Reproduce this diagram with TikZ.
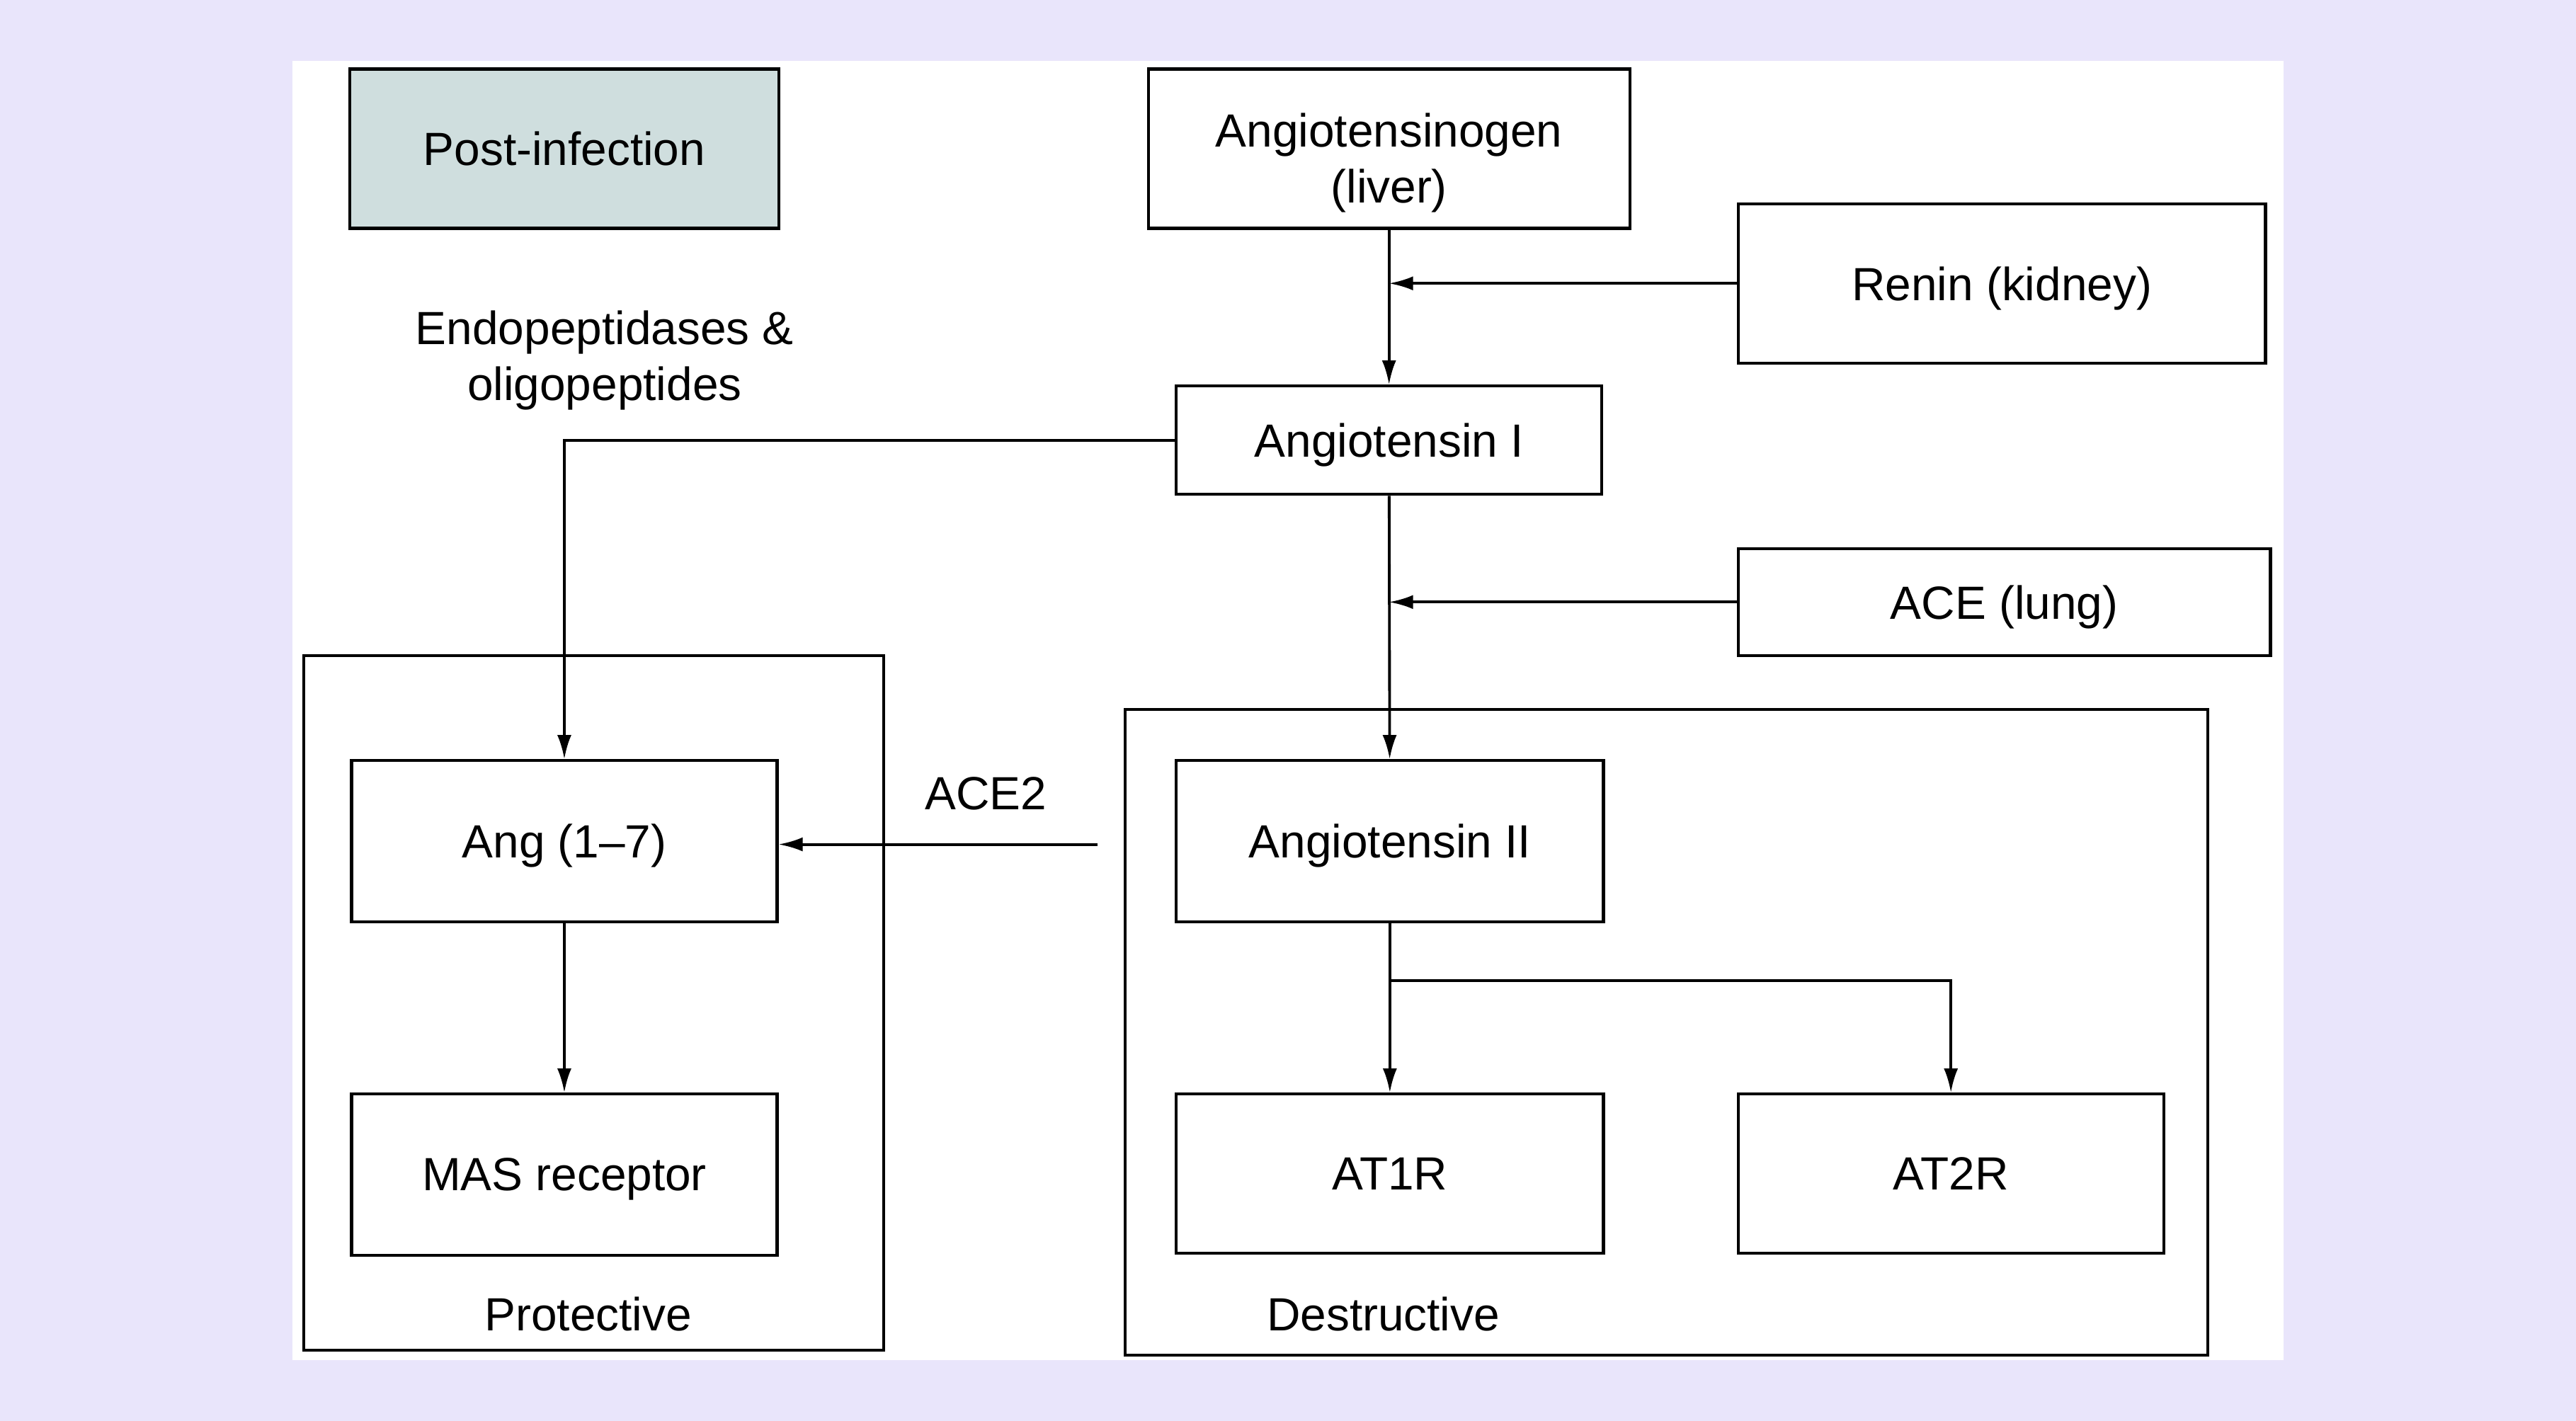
\documentclass[tikz,border=0pt]{standalone}
\usepackage{fontspec}
\setmainfont{Liberation Sans}
\usetikzlibrary{arrows.meta}
\definecolor{bgpurple}{RGB}{233,229,251}
\definecolor{postgray}{RGB}{207,222,222}
\newcommand{\pxu}{0.0232cm}
\tikzset{
  box/.style 2 args={draw,line width=1.2pt,minimum width=#1*\pxu,minimum height=#2*\pxu,inner sep=0pt,align=center,text depth=0pt},
  arr/.style={line width=1.1pt,-{Latex[length=3.4mm,width=2mm]}},
}

\begin{document}
\begin{tikzpicture}[x=\pxu,y=-\pxu,font=\fontsize{18.7}{22.4}\selectfont]
          \useasboundingbox (0,0) rectangle (1568,865);
          \fill[bgpurple] (0,0) rectangle (1568,865);
          \fill[white] (178,37) rectangle (1390,828);
          \node[box={353}{423}] (prot) at (361.5,610.5) {};
          \node[box={659}{393}] (dest) at (1014.5,628.5) {};
          \node[box={261}{97},fill=postgray] (post) at (343.5,90.5) {Post-infection};
          \node[box={293}{97}] (angen) at (845.5,90.5) {\rule{0pt}{21pt}Angiotensinogen\\(liver)};
          \node[box={321}{97}] (renin) at (1218.5,172.5) {Renin (kidney)};
          \node[box={259}{66}] (angI) at (845.5,268) {Angiotensin I};
          \node[box={324}{65}] (ace) at (1220,366.5) {ACE (lung)};
          \node[box={259}{98}] (ang17) at (343.5,512) {Ang (1--7)};
          \node[box={259}{98}] (mas) at (343.5,715) {MAS receptor};
          \node[box={260}{98}] (angII) at (846,512) {Angiotensin II};
          \node[box={260}{97}] (at1r) at (846,714.5) {AT1R};
          \node[box={259}{97}] (at2r) at (1187.5,714.5) {AT2R};
          \node[align=center] (endo) at (368,219.5) {Endopeptidases \&\\oligopeptides};
          \node (ace2) at (600,483) {ACE2};
          \node (protlbl) at (358,800) {Protective};
          \node (destlbl) at (842,800) {Destructive};
          \coordinate (ace2start) at (668,514);
          \coordinate (split) at (846,597);
          \draw[arr] (angen) -- (angI);
          \draw[arr] (renin.west) -- (renin.west -| angen.south);
          \draw[arr] (angI.west) -| (ang17.north);
          \draw[arr] (angI) -- (angII);
          \draw[arr] (ace.west) -- (ace.west -| angI.south);
          \draw[arr] (ace2start) -- (ace2start -| ang17.east);
          \draw[arr] (ang17) -- (mas);
          \draw[arr] (angII) -- (at1r);
          \draw[arr] (split) -| (at2r.north);
        \end{tikzpicture}
\end{document}
